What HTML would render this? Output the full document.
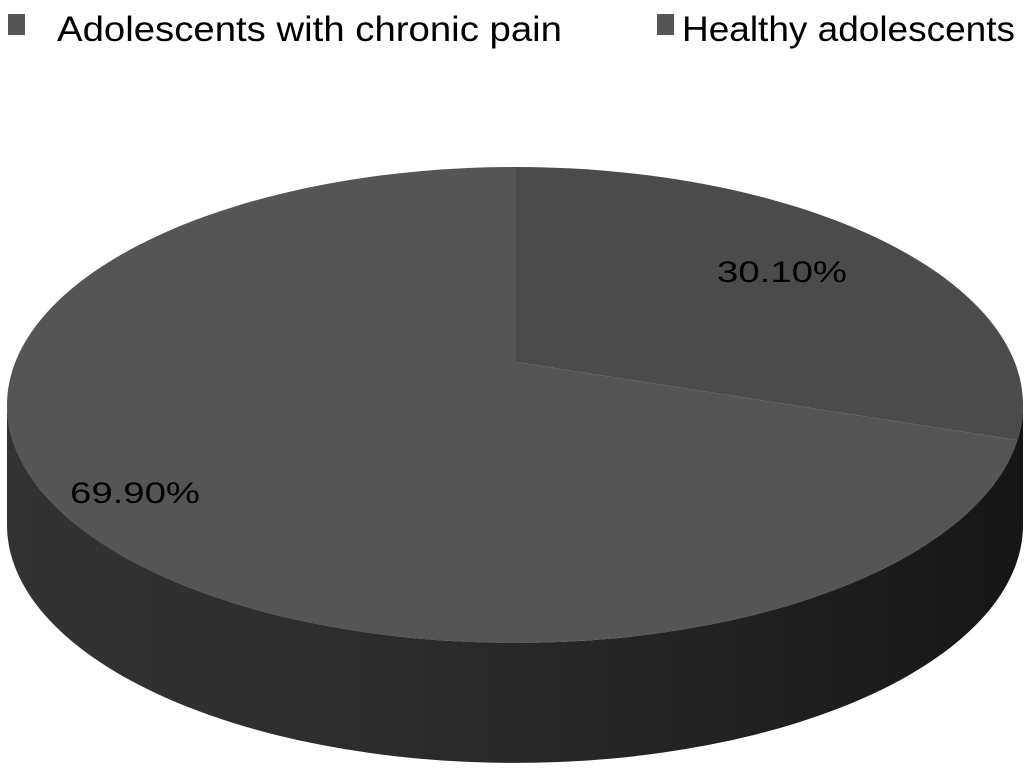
<!DOCTYPE html>
<html><head><meta charset="utf-8"><style>
html,body{margin:0;padding:0;background:#fff;width:1032px;height:776px;overflow:hidden}
svg{display:block;font-family:"Liberation Sans",sans-serif}
</style></head><body>
<svg id="chart" width="1032" height="776">
<defs>
<linearGradient id="side" x1="0" x2="1" y1="0" y2="0">
<stop offset="0" stop-color="#333"/><stop offset="0.3" stop-color="#2e2e2e"/><stop offset="0.7" stop-color="#222"/><stop offset="1" stop-color="#161616"/>
</linearGradient>
</defs>
<g>
<rect x="8" y="14" width="17" height="21" fill="#555"/>
<text x="57" y="41" font-size="35" textLength="505" lengthAdjust="spacingAndGlyphs" fill="#000">Adolescents with chronic pain</text>
<rect x="657" y="14" width="17" height="21" fill="#555"/>
<text x="682" y="41" font-size="35" textLength="333" lengthAdjust="spacingAndGlyphs" fill="#000">Healthy adolescents</text>
</g>
<g id="pie"></g>
</svg>
<script>
const categories = ["Adolescents with chronic pain", "Healthy adolescents"];
const values = [30.1, 69.9];
const valueLabels = ["30.10%", "69.90%"];

const cx = 515, cy = 405, rx = 508, ry = 238, depth = 120;
const vx = 516, vy = 362, tilt = 0.47;
const NS = "http://www.w3.org/2000/svg";
const g = document.getElementById("pie");
const total = values.reduce((a, b) => a + b, 0);

function rayPoint(deg) {
  const a = deg * Math.PI / 180;
  const dx = Math.cos(a), dy = Math.sin(a) * tilt;
  let lo = 0, hi = 2000;
  for (let i = 0; i < 60; i++) {
    const t = (lo + hi) / 2;
    const x = vx + dx * t, y = vy + dy * t;
    const e = ((x - cx) / rx) ** 2 + ((y - cy) / ry) ** 2;
    if (e < 1) lo = t; else hi = t;
  }
  return [vx + dx * lo, vy + dy * lo];
}

// side wall
const side = document.createElementNS(NS, "path");
side.setAttribute("d", `M${cx - rx},${cy} A${rx},${ry} 0 0 0 ${cx + rx},${cy} L${cx + rx},${cy + depth} A${rx},${ry} 0 0 1 ${cx - rx},${cy + depth} Z`);
side.setAttribute("fill", "url(#side)");


g.appendChild(side);

const colors = ["#4b4b4b", "#555555"];
let start = -90;
values.forEach((v, i) => {
  const sweep = 360 * v / total;
  const end = start + sweep;
  const p0 = rayPoint(start), p1 = rayPoint(end);
  const large = sweep > 180 ? 1 : 0;
  const path = document.createElementNS(NS, "path");
  path.setAttribute("d", `M${vx},${vy} L${p0[0]},${p0[1]} A${rx},${ry} 0 ${large} 1 ${p1[0]},${p1[1]} Z`);
  path.setAttribute("fill", colors[i]);
  
  
  g.appendChild(path);
  start = end;
});

// labels
const labelPos = [[717, 282], [70, 503]];
valueLabels.forEach((t, i) => {
  const tx = document.createElementNS(NS, "text");
  tx.setAttribute("x", labelPos[i][0]);
  tx.setAttribute("y", labelPos[i][1]);
  tx.setAttribute("font-size", "30");
  tx.setAttribute("textLength", "130");
  tx.setAttribute("lengthAdjust", "spacingAndGlyphs");
  tx.setAttribute("fill", "#000");
  tx.textContent = t;
  
  
  g.appendChild(tx);
});
</script>
</body></html>
